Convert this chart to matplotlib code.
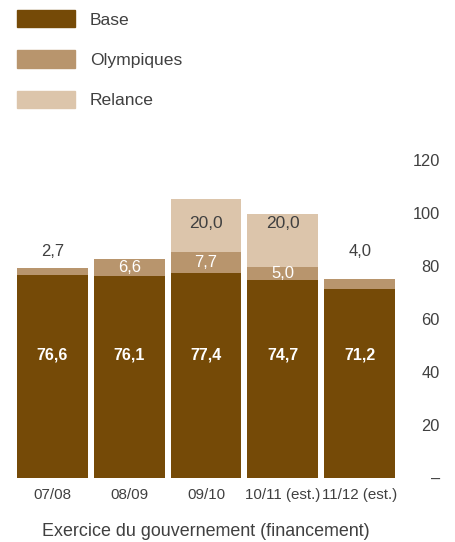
import numpy as np
import matplotlib.pyplot as plt
from matplotlib.patches import Patch

# data
categories = ['07/08', '08/09', '09/10', '10/11 (est.)', '11/12 (est.)']
base = [76.6, 76.1, 77.4, 74.7, 71.2]
olympiques = [2.7, 6.6, 7.7, 5.0, 4.0]
relance = [0.0, 0.0, 20.0, 20.0, 0.0]
series_names = ['Base', 'Olympiques', 'Relance']

c_base = '#754A07'
c_oly = '#B8956D'
c_rel = '#DCC5AB'
txt = '#404040'

plt.rcParams['font.family'] = ['Liberation Sans', 'DejaVu Sans']

fig = plt.figure(figsize=(4.56, 5.42), dpi=100)
ax = fig.add_axes([17 / 456, 64 / 542, 378 / 456, 318 / 542])

x = np.arange(len(categories))
b = np.array(base)
o = np.array(olympiques)
r = np.array(relance)
w = 0.92

ax.bar(x, b, w, color=c_base)
ax.bar(x, o, w, bottom=b, color=c_oly)
ax.bar(x, r, w, bottom=b + o, color=c_rel)

fmt = lambda v: '{:.1f}'.format(v).replace('.', ',')

for i in range(len(x)):
    ax.text(x[i], 46.4, fmt(b[i]), ha='center', va='center', color='white',
            fontsize=11.5, fontweight='bold')
    if r[i] > 0:
        # label sits inside the olympiques segment
        ax.text(x[i], b[i] + o[i] / 2, fmt(o[i]), ha='center', va='center',
                color='white', fontsize=12)
        ax.text(x[i], 96.2, fmt(r[i]), ha='center', va='center', color=txt,
                fontsize=12.5)
    elif o[i] > 5:
        ax.text(x[i], b[i] + o[i] / 2, fmt(o[i]), ha='center', va='center',
                color='white', fontsize=12)
    else:
        ax.text(x[i], 85.3, fmt(o[i]), ha='center', va='center', color=txt,
                fontsize=12)

ax.set_xlim(-0.46, len(x) - 0.54)
ax.set_ylim(0, 120)
for s in ax.spines.values():
    s.set_visible(False)

ax.yaxis.tick_right()
ax.set_yticks([0, 20, 40, 60, 80, 100, 120])
ax.set_yticklabels(['–', '20', '40', '60', '80', '100', '120'])
ax.tick_params(axis='y', length=0, pad=32.4, labelsize=11.8, labelcolor=txt)
for lab in ax.get_yticklabels():
    lab.set_horizontalalignment('right')

ax.set_xticks(x)
ax.set_xticklabels(categories)
ax.tick_params(axis='x', length=0, pad=7, labelsize=10.9, labelcolor=txt)
ax.set_xlabel('Exercice du gouvernement (financement)', fontsize=12.9,
              color=txt, labelpad=15)

handles = [Patch(color=c) for c in (c_base, c_oly, c_rel)]
fig.legend(handles, series_names, loc='upper left',
           bbox_to_anchor=(17 / 456, 1 - 10 / 542), frameon=False,
           fontsize=12.6, handlelength=3.31, handleheight=1.14,
           labelspacing=1.3, handletextpad=0.86, borderpad=0,
           borderaxespad=0, labelcolor=txt)

fig.savefig('out.png', dpi=100)
